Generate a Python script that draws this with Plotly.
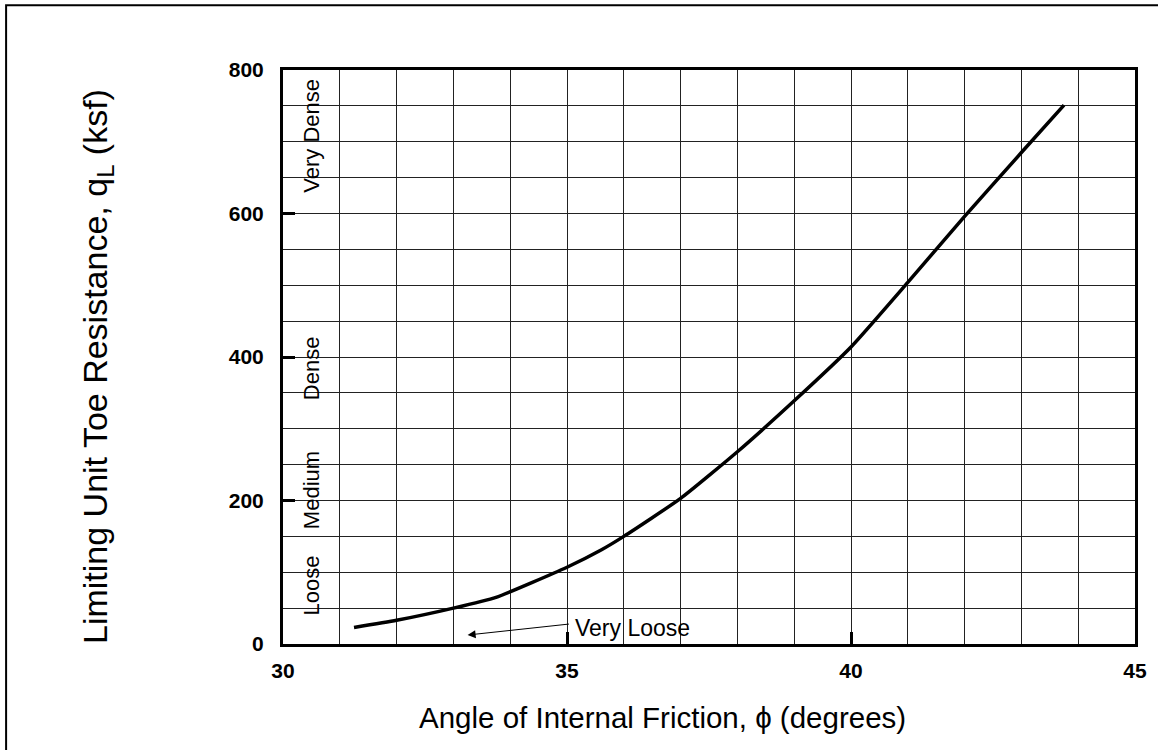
import plotly.graph_objects as go

# ── Data ─────────────────────────────────────────────────────────────────────
phi = [31.25, 32.0, 33.0, 33.75, 35.0, 35.6, 36.0, 37.0, 38.0, 39.0, 40.0, 41.0, 42.0, 43.0, 43.75]
q_l = [23, 33, 50, 65, 107, 131, 150, 203, 268, 339, 414, 504, 596, 685, 751]

density_labels = ["Very Dense", "Dense", "Medium", "Loose"]
density_q = [709, 385, 215, 82]

x_ticks = [30, 35, 40, 45]
y_ticks = [0, 200, 400, 600, 800]

FONT = "Liberation Sans, Arial, sans-serif"
INK = "#000000"

fig = go.Figure()

fig.add_trace(go.Scatter(
    x=phi, y=q_l,
    mode="lines",
    line=dict(color=INK, width=3.5, shape="spline", smoothing=0.5),
    showlegend=False, hoverinfo="skip",
))

# ── Density labels along the left edge ───────────────────────────────────────
for label, qv in zip(density_labels, density_q):
    fig.add_annotation(
        x=30.5, y=qv, xref="x", yref="y",
        text=label, textangle=-90, showarrow=False,
        font=dict(family=FONT, size=22, color=INK),
    )

# ── "Very Loose" callout ─────────────────────────────────────────────────────
fig.add_annotation(
    x=35.1, y=22, xref="x", yref="y",
    text="Very Loose", showarrow=False,
    xanchor="left", yanchor="middle",
    font=dict(family=FONT, size=23, color=INK),
)
fig.add_annotation(
    x=33.25, y=12.5, xref="x", yref="y",
    ax=35.06, ay=28, axref="x", ayref="y",
    text="", showarrow=True,
    arrowhead=2, arrowsize=1.6, arrowwidth=1, arrowcolor=INK,
)

# ── Axis titles ──────────────────────────────────────────────────────────────
fig.add_annotation(
    x=0.446, y=-0.128, xref="paper", yref="paper",
    text="Angle of Internal Friction, ϕ (degrees)", showarrow=False,
    xanchor="center", yanchor="middle",
    font=dict(family=FONT, size=29.5, color=INK),
)
fig.add_annotation(
    x=-0.218, y=0.483, xref="paper", yref="paper",
    text="Limiting Unit Toe Resistance, q<sub>L</sub> (ksf)", showarrow=False,
    textangle=-90, xanchor="center", yanchor="middle",
    font=dict(family=FONT, size=34, color=INK),
)

# ── Outer frame of the figure ────────────────────────────────────────────────
fig.add_shape(
    type="rect", xref="paper", yref="paper",
    x0=-0.325, x1=1.2, y0=-0.4, y1=1.113,
    line=dict(color=INK, width=2), layer="below",
)

axis_common = dict(
    showline=True, linecolor=INK, linewidth=3, mirror=True,
    showgrid=True, gridcolor="#222222", gridwidth=1,
    ticks="inside", ticklen=12, tickwidth=2.5, tickcolor=INK,
    tickfont=dict(family=FONT, size=21, color=INK, weight="bold"),
    zeroline=False, fixedrange=True,
)

fig.update_xaxes(
    **axis_common,
    range=[30, 45], tickvals=x_ticks, ticklabelstandoff=6,
    minor=dict(dtick=1, tick0=30, showgrid=True, gridcolor="#222222", gridwidth=1, ticks=""),
)
fig.update_yaxes(
    **axis_common,
    range=[0, 800], tickvals=y_ticks, ticklabelstandoff=12,
    minor=dict(dtick=50, tick0=0, showgrid=True, gridcolor="#222222", gridwidth=1, ticks=""),
)

fig.update_layout(
    width=1158, height=750,
    margin=dict(l=283, r=23, t=70, b=106, autoexpand=False),
    paper_bgcolor="white", plot_bgcolor="white",
    showlegend=False,
)

fig.write_html(
    "out.html",
    config=dict(displayModeBar=False),
    post_script="document.body.style.margin='0px';document.body.style.overflow='hidden';",
)
